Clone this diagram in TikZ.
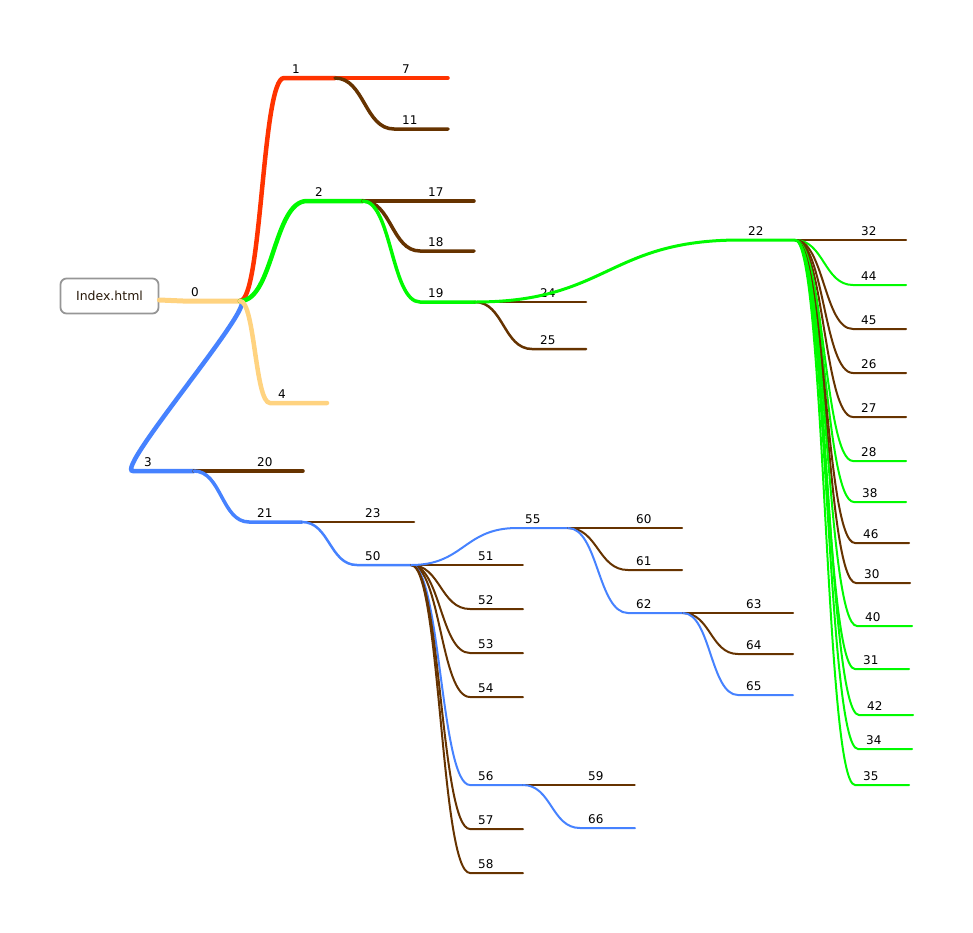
\documentclass[tikz,border=0pt]{standalone}
\usepackage{fontspec}
\setmainfont{DejaVu Sans}
\usetikzlibrary{calc}
\definecolor{orangeline}{RGB}{255,211,128}
\definecolor{redline}{RGB}{255,51,0}
\definecolor{greenline}{RGB}{0,250,0}
\definecolor{blueline}{RGB}{70,130,255}
\definecolor{brownline}{RGB}{102,51,0}
\definecolor{boxgray}{RGB}{150,150,150}
\tikzset{
    lbl/.style={font=\fontsize{12}{14}\selectfont, inner sep=0pt, anchor=base west},
    link/.style={to path={let \p1=(\tikztostart), \p2=(\tikztotarget) in
        .. controls ({(\x1+\x2)/2},\y1) and ({(\x1+\x2)/2},\y2) .. (\tikztotarget)}},
    pagebox/.style={draw=boxgray, line width=1.8pt, rounded corners=6pt,
        minimum width=98pt, minimum height=35pt, inner sep=0pt,
        font=\fontsize{12.5}{14}\selectfont, text={rgb,255:red,40;green,25;blue,10}}
}
\begin{document}
\begin{tikzpicture}[x=1pt, y=-1pt, line cap=round]
                \useasboundingbox (0,0) rectangle (973,932);
                \node[pagebox] (index) at (109.5,296) {Index.html};
                \coordinate (s0) at (183,301);
                \coordinate (e0) at (240,301);
                \node[lbl] (l0) at ([shift={(8,-5)}]s0) {0};
                \coordinate (s3) at (133,471);
                \coordinate (e3) at (194,471);
                \node[lbl] (l3) at ([shift={(11,-5)}]s3) {3};
                \draw[blueline, line width=4.5pt] (e0) .. controls +(20,0) and +(-20,0) .. (s3) -- (e3);
                \draw[orangeline, line width=5pt] ([shift={(0,4)}]index.east) to[link] (s0) -- (e0);
                % name/parent/start x/y/end x/colour/width
                \foreach \id/\up/\xs/\ys/\xe/\col/\lw in {
                    1/0/284/78/335/redline/4.5, 2/0/307/201/363/greenline/4.5,
                    4/0/270/403/327/orangeline/4.5,
                    7/1/394/78/448/redline/3.5, 11/1/394/129/448/brownline/3.5,
                    17/2/420/201/474/brownline/3.5, 18/2/420/251/474/brownline/3.5,
                    19/2/420/302/475/greenline/3.5,
                    20/3/249/471/303/brownline/3.5, 21/3/249/522/302/blueline/3.5,
                    24/19/532/302/586/brownline/2.5, 25/19/532/349/586/brownline/2.5,
                    22/19/740/240/795/greenline/3,
                    23/21/357/522/414/brownline/2.5, 50/21/357/565/411/blueline/2.5,
                    32/22/853/240/906/brownline/2, 44/22/853/285/906/greenline/2,
                    45/22/853/329/906/brownline/2, 26/22/853/373/906/brownline/2,
                    27/22/853/417/906/brownline/2, 28/22/853/461/906/greenline/2,
                    38/22/854/502/906/greenline/2, 46/22/855/543/909/brownline/2,
                    30/22/856/583/910/brownline/2, 40/22/857/626/912/greenline/2,
                    31/22/855/669/909/greenline/2, 42/22/859/715/913/greenline/2,
                    34/22/858/749/912/greenline/2, 35/22/855/785/909/greenline/2,
                    51/50/470/565/523/brownline/1.5, 52/50/470/609/523/brownline/2,
                    53/50/470/653/523/brownline/2, 54/50/470/697/523/brownline/2,
                    56/50/470/785/523/blueline/2, 57/50/470/829/523/brownline/2,
                    58/50/470/873/523/brownline/2, 55/50/517/528/568/blueline/2,
                    60/55/628/528/682/brownline/2, 61/55/628/570/682/brownline/2,
                    62/55/628/613/683/blueline/2,
                    63/62/738/613/793/brownline/2, 64/62/738/654/793/brownline/2,
                    65/62/738/695/793/blueline/2,
                    59/56/580/785/635/brownline/1.2, 66/56/580/828/635/blueline/2}{
                    \coordinate (s\id) at (\xs,\ys);
                    \coordinate (e\id) at (\xe,\ys);
                    \node[lbl] (l\id) at ([shift={(8,-5)}]s\id) {\id};
                    \draw[\col, line width=\lw pt] (e\up) to[link] (s\id) -- (e\id);
                }
            \end{tikzpicture}
\end{document}
